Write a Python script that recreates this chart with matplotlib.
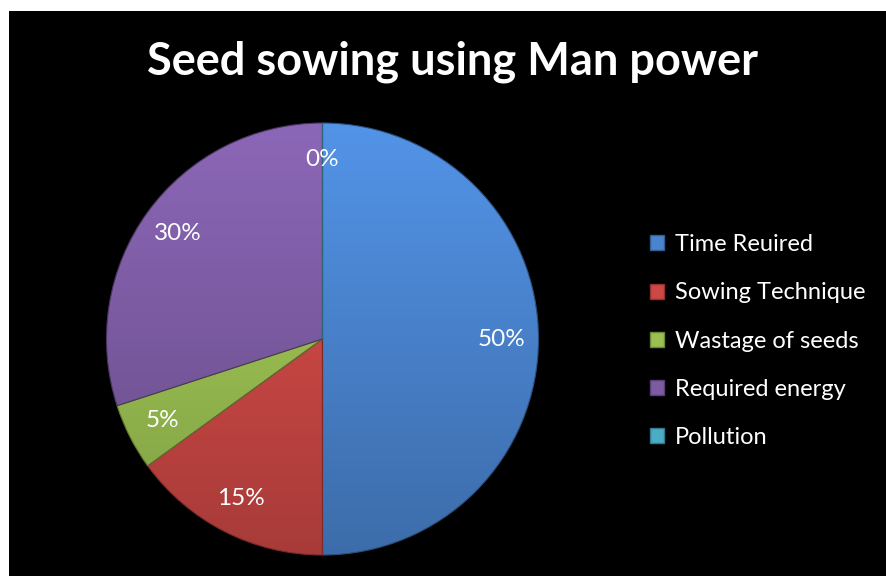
import numpy as np
import matplotlib
matplotlib.use('Agg')
import matplotlib.pyplot as plt
from matplotlib.patches import Rectangle, Patch
from matplotlib.colors import to_rgb

plt.rcParams['font.family'] = ['Lato', 'DejaVu Sans']

title = 'Seed sowing using Man power'
labels = ['Time Reuired', 'Sowing Technique', 'Wastage of seeds', 'Required energy', 'Pollution']
values = [50, 15, 5, 30, 0]
colors = ['#4a84cf', '#cc4845', '#9bc052', '#7d5ca4', '#4bacc6']

W, H = 887, 576
fig = plt.figure(figsize=(W / 100, H / 100), dpi=100, facecolor='white')
# black chart area, white strip left and top
fig.patches.append(Rectangle((9 / W, 0), 1 - 9 / W, 1 - 11 / H, transform=fig.transFigure,
                             facecolor='black', edgecolor='none', zorder=-10))

cx, cy, r = 322.5, 339, 216
ax = fig.add_axes([(cx - r) / W, (H - cy - r) / H, 2 * r / W, 2 * r / H])
ax.set_zorder(1)

wedges, texts, autotexts = ax.pie(values, colors=colors, startangle=90, counterclock=False,
                                  radius=1, autopct='%1.0f%%', pctdistance=0.83,
                                  wedgeprops=dict(edgecolor='none'),
                                  textprops=dict(color='white', fontsize=17.5))
ax.set_xlim(-1, 1)
ax.set_ylim(-1, 1)
ax.axis('off')

# soft top-to-bottom shading inside each slice
for w, c in zip(wedges, colors):
    base = np.array(to_rgb(c))
    top = np.clip(base * 1.12, 0, 1)
    bot = base * 0.82
    t = np.linspace(0, 1, 200)[:, None]
    grad = top * (1 - t) + bot * t
    img = np.repeat(grad[:, None, :], 2, axis=1)
    im = ax.imshow(img, extent=(-1, 1, -1, 1), origin='upper', aspect='auto', zorder=1.5)
    im.set_clip_path(w)
    w.set_edgecolor(tuple(base * 0.6))
    w.set_linewidth(0.8)
    w.set_zorder(1.6)
    w.set_facecolor('none')
for t_ in autotexts:
    t_.set_zorder(3)
ax.set_xlim(-1, 1)
ax.set_ylim(-1, 1)

fig.text(453 / W, 1 - 62 / H, title, color='white', fontsize=32.5, fontweight='bold',
         ha='center', va='center')

handles = [Patch(facecolor=c, edgecolor=tuple(np.array(to_rgb(c)) * 0.7)) for c in colors]
fig.legend(handles, labels, loc='center left', bbox_to_anchor=(629 / W, 1 - 341 / H),
           frameon=False, fontsize=17, labelcolor='white', labelspacing=1.15,
           handlelength=0.6, handleheight=0.6, handletextpad=0.45)

fig.savefig('out.png', dpi=100, facecolor=fig.get_facecolor())
